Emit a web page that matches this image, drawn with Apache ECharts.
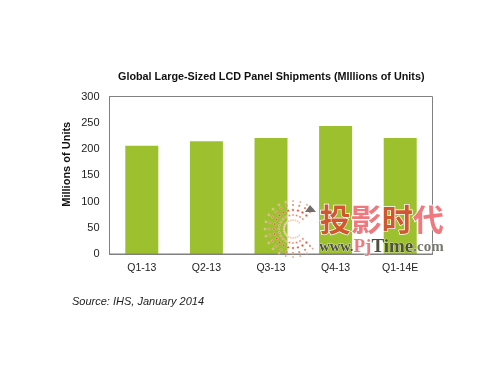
<!DOCTYPE html>
<html>
<head>
<meta charset="utf-8">
<style>
  html, body { margin: 0; padding: 0; background: #fff; }
</style>
<script src="https://cdn.jsdelivr.net/npm/echarts@6/dist/echarts.min.js"></script>
</head>
<body>
<div id="chart" style="width: 500px; height: 375px"></div>
<script>
const categories = ['Q1-13', 'Q2-13', 'Q3-13', 'Q4-13', 'Q1-14E']
const shipments = [206, 215, 221, 244, 221]
const titleText = 'Global Large-Sized LCD Panel Shipments (MIllions of Units)'
const yAxisName = 'Millions of Units'
const sourceText = 'Source: IHS, January 2014'

const font = '"Liberation Sans", Arial, sans-serif'
const chart = echarts.init(document.getElementById('chart'))

// logo next to the watermark: spokes of small dots, open towards the right
const logo = []
const rings = [[9, 0.9, '#f7b9b4'], [14, 1.1, '#ef7f78'], [19, 1.2, '#e4503f'], [24, 1.1, '#e4604f'], [28, 1, '#ea8f80']]
rings.forEach(([r, size, color]) => {
  for (let a = 45; a <= 315; a += 15) {
    const rad = a * Math.PI / 180
    logo.push({
      type: 'circle',
      z: 10,
      shape: { cx: 293 + r * Math.cos(rad), cy: 229 - r * Math.sin(rad), r: size },
      style: { fill: color, stroke: '#f4f4e0', lineWidth: 0.4 }
    })
  }
})

chart.setOption({
  animation: false,
  backgroundColor: '#fff',
  title: {
    text: titleText,
    left: 113,
    top: 67,
    textStyle: { fontFamily: font, fontSize: 10.8, fontWeight: 'bold', color: '#111' }
  },
  grid: { left: 109.5, right: 67.5, top: 96.5, bottom: 121 },
  xAxis: {
    type: 'category',
    data: categories,
    axisTick: { show: false },
    axisLine: { lineStyle: { color: '#808080', width: 1 } },
    axisLabel: { fontFamily: font, fontSize: 10.5, color: '#222', margin: 9 }
  },
  yAxis: {
    type: 'value',
    min: 0,
    max: 300,
    interval: 50,
    name: yAxisName,
    nameLocation: 'middle',
    nameGap: 37,
    nameMoveOverlap: false,
    nameTextStyle: { fontFamily: font, fontSize: 11, fontWeight: 'bold', color: '#111', padding: [0, 0, 0, 22] },
    axisLine: { show: true, lineStyle: { color: '#808080', width: 1 } },
    axisTick: { show: false },
    splitLine: { show: false },
    axisLabel: { fontFamily: font, fontSize: 11, color: '#222', margin: 10 }
  },
  series: [{
    type: 'bar',
    data: shipments,
    barWidth: 33,
    itemStyle: { color: '#9dc02e' }
  }],
  graphic: [
    {
      type: 'rect',
      silent: true,
      z: 5,
      shape: { x: 109.5, y: 96.5, width: 323, height: 157.5 },
      style: { fill: 'none', stroke: '#808080', lineWidth: 1 }
    },
    {
      type: 'text',
      left: 72,
      top: 296,
      style: { text: sourceText, fontFamily: font, fontSize: 11, fontStyle: 'italic', fill: '#222' }
    },
    ...logo,
    {
      type: 'polygon',
      z: 10,
      shape: { points: [[305, 212], [316, 212], [310, 205]] },
      style: { fill: '#6e6e6e' }
    },
    {
      type: 'text',
      z: 10,
      left: 319,
      top: 203,
      style: {
        text: '{a|投}{b|影}{a|时}{b|代}',
        rich: {
          a: { fontFamily: '"Noto Sans CJK SC"', fontSize: 31, fontWeight: 'bold', fill: '#d2572f', stroke: '#fff', lineWidth: 1.5 },
          b: { fontFamily: '"Noto Sans CJK SC"', fontSize: 31, fontWeight: 'bold', fill: '#ee7a80', stroke: '#fff', lineWidth: 1.5 }
        }
      }
    },
    {
      type: 'text',
      z: 10,
      left: 319,
      top: 237,
      style: {
        text: '{g|www.}{r|Pj}{d|Time}{c|.com}',
        rich: {
          g: { fontFamily: '"Liberation Serif", serif', fontSize: 14.5, fontWeight: 'bold', fill: '#4f4f3f', stroke: '#fff', lineWidth: 0.5 },
          r: { fontFamily: '"Liberation Serif", serif', fontSize: 19, fontWeight: 'bold', fill: '#ee7a80', stroke: '#fff', lineWidth: 0.5 },
          d: { fontFamily: '"Liberation Serif", serif', fontSize: 19, fontWeight: 'bold', fill: '#4f4f3f', stroke: '#fff', lineWidth: 0.5 },
          c: { fontFamily: '"Liberation Serif", serif', fontSize: 15, fontWeight: 'bold', fill: '#77776f', stroke: '#fff', lineWidth: 0.5 }
        }
      }
    }
  ]
})
</script>
</body>
</html>
